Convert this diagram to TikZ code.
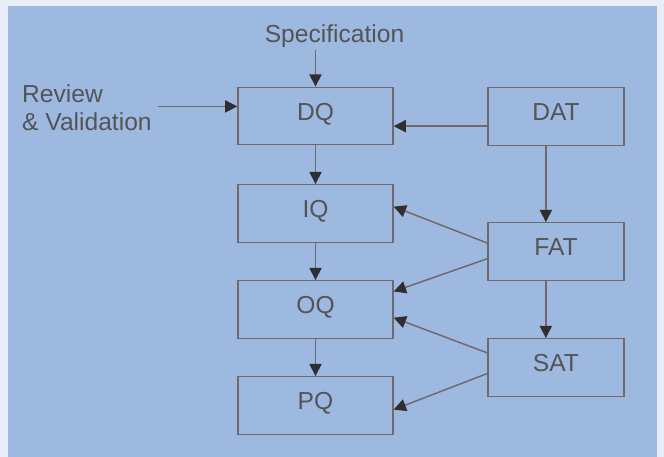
\documentclass[tikz,border=0pt]{standalone}
\usepackage{fontspec}
\setmainfont{Liberation Sans}
\usepackage{xcolor}
\usepackage{tikz}
\usetikzlibrary{arrows.meta}
\definecolor{paper}{RGB}{232,238,247}
\definecolor{sheet}{RGB}{158,185,224}
\definecolor{rule}{RGB}{112,104,106}
\definecolor{ink}{RGB}{84,84,86}
\definecolor{tip}{RGB}{48,46,48}

\begin{document}
\begin{tikzpicture}[x=0.02cm,y=-0.02cm]
    \tikzstyle{stage} = [draw=rule,line width=0.8pt,text=ink,minimum width=3.1cm,minimum height=1.15cm,text height=7pt,text depth=2.4pt,font=\fontsize{14}{16}\selectfont]
    \tikzstyle{test} = [stage,minimum width=2.72cm]
    \tikzstyle{flow} = [draw=rule,line width=0.85pt,-{Triangle[length=7pt,width=7pt,color=tip]}]
    \tikzstyle{caption} = [text=ink,font=\fontsize{14}{16}\selectfont]

    \fill[paper] (0,0) rectangle (664,457);
    \fill[sheet] (8,6) rectangle (657,457);
    \useasboundingbox (0,0) rectangle (664,457);

    \node[caption,inner ysep=1pt] (spec) at (334.5,36.5) {Specification};
    \node[caption,align=left,anchor=west] (review) at (16,108) {Review\\\& Validation};

    \node[stage] (dq) at (315.5,116) {DQ};
    \node[stage] (iq) at (315.5,213.5) {IQ};
    \node[stage] (oq) at (315.5,309.5) {OQ};
    \node[stage] (pq) at (315.5,405.5) {PQ};

    \node[test] (dat) at (556,116.5) {DAT};
    \node[test] (fat) at (556,251.5) {FAT};
    \node[test] (sat) at (556,367.5) {SAT};

    \draw[flow] (spec.south -| dq.north) -- (dq.north);
    \draw[flow] (dq.173 -| review.east) -- (dq.173);

    \draw[flow] (dq) -- (iq);
    \draw[flow] (iq) -- (oq);
    \draw[flow] (oq) -- (pq);

    \draw[flow] (dat.188) -- (dat.188 -| dq.east);
    \draw[flow] (dat.251) -- (dat.251 |- fat.north);
    \draw[flow] (fat.251) -- (fat.251 |- sat.north);

    \draw[flow] (fat.173) -- (iq.5);
    \draw[flow] (fat.186) -- (oq.13);
    \draw[flow] (sat.168) -- (oq.354);
    \draw[flow] (sat.185) -- (pq.357);

\end{tikzpicture}
\end{document}
